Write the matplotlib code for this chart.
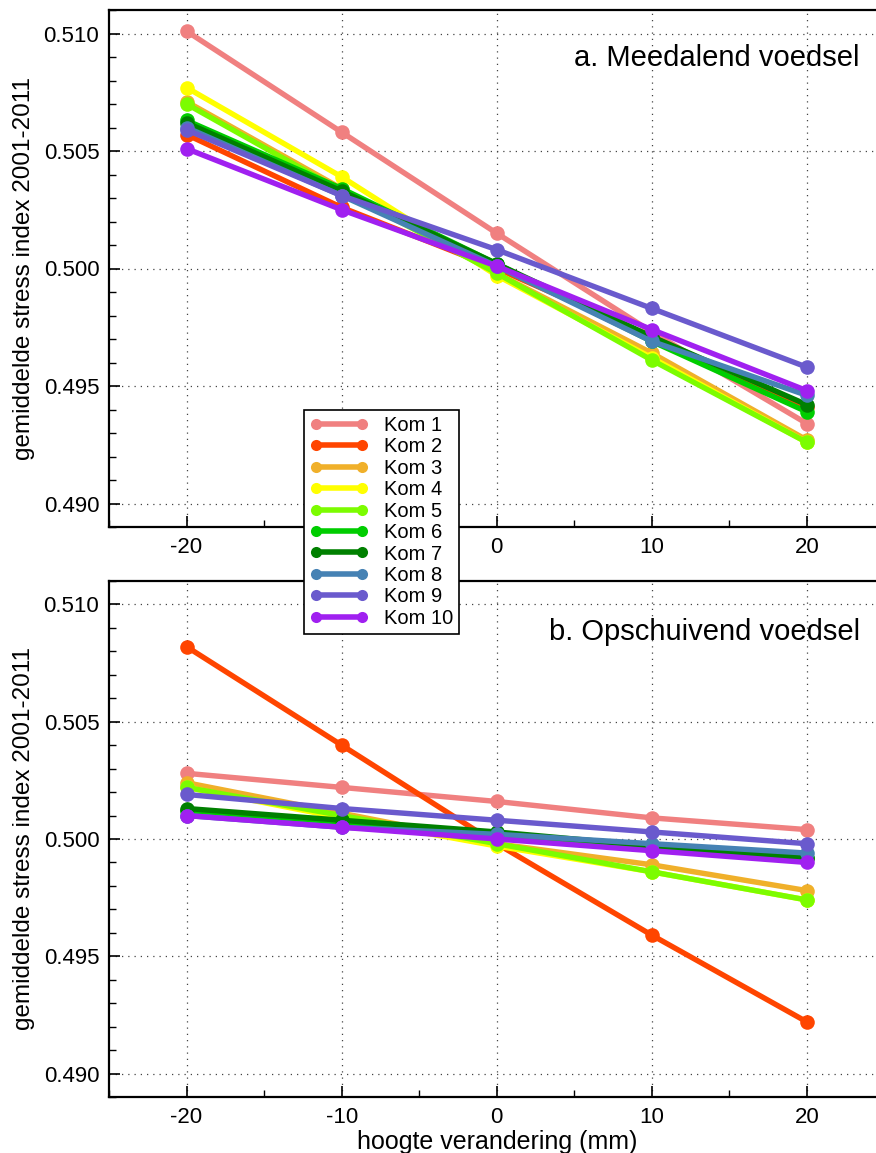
import matplotlib
matplotlib.use("Agg")
import matplotlib.pyplot as plt
from matplotlib.ticker import MultipleLocator, FormatStrFormatter

plt.rcParams['font.family'] = ['Liberation Sans', 'DejaVu Sans']
plt.rcParams['axes.unicode_minus'] = False

x_vals = [-20, -10, 0, 10, 20]
labels = ["Kom 1", "Kom 2", "Kom 3", "Kom 4", "Kom 5",
          "Kom 6", "Kom 7", "Kom 8", "Kom 9", "Kom 10"]
colors = ["#F08080", "#FF4500", "#F0B02A", "#FFFF00", "#7CFC00",
          "#00CD00", "#008000", "#4682B4", "#6A5ACD", "#A020F0"]

meedalend = [
    [0.5101, 0.5058, 0.5015, 0.4973, 0.4934],
    [0.5057, 0.5026, 0.5000, 0.4971, 0.4941],
    [0.5071, 0.5034, 0.4998, 0.4964, 0.4927],
    [0.5077, 0.5039, 0.4997, 0.4962, 0.4926],
    [0.5070, 0.5033, 0.4998, 0.4961, 0.4926],
    [0.5063, 0.5034, 0.5002, 0.4969, 0.4939],
    [0.5062, 0.5033, 0.5002, 0.4971, 0.4942],
    [0.5060, 0.5031, 0.5001, 0.4969, 0.4946],
    [0.5059, 0.5031, 0.5008, 0.4983, 0.4958],
    [0.5051, 0.5025, 0.5001, 0.4974, 0.4948],
]

opschuivend = [
    [0.5028, 0.5022, 0.5016, 0.5009, 0.5004],
    [0.5082, 0.5040, 0.4998, 0.4959, 0.4922],
    [0.5024, 0.5011, 0.4998, 0.4989, 0.4978],
    [0.5022, 0.5009, 0.4997, 0.4986, 0.4974],
    [0.5022, 0.5010, 0.4998, 0.4986, 0.4974],
    [0.5012, 0.5007, 0.5002, 0.4996, 0.4992],
    [0.5013, 0.5008, 0.5003, 0.4997, 0.4992],
    [0.5010, 0.5005, 0.5002, 0.4998, 0.4994],
    [0.5019, 0.5013, 0.5008, 0.5003, 0.4998],
    [0.5010, 0.5005, 0.5000, 0.4995, 0.4990],
]

panel_titles = ["a. Meedalend voedsel", "b. Opschuivend voedsel"]

fig = plt.figure(figsize=(8.76, 11.53), dpi=100)
W, H = 876, 1153
ax1 = fig.add_axes([109 / W, 1 - 527 / H, (884.5 - 109) / W, (527 - 10) / H])
ax2 = fig.add_axes([109 / W, 1 - 1097 / H, (884.5 - 109) / W, (1097 - 581) / H])

handles = []
for ax, data in [(ax1, meedalend), (ax2, opschuivend)]:
    for i, (series, c) in enumerate(zip(data, colors)):
        ln, = ax.plot(x_vals, series, color=c, lw=3.9, marker='o', ms=10.5,
                      markeredgewidth=0, label=labels[i], zorder=3 + i * 0.01)
        if ax is ax1:
            handles.append(ln)
    ax.set_xlim(-25, 25)
    ax.set_ylim(0.489, 0.511)
    ax.xaxis.set_major_locator(MultipleLocator(10))
    ax.xaxis.set_minor_locator(MultipleLocator(5))
    ax.yaxis.set_major_locator(MultipleLocator(0.005))
    ax.yaxis.set_minor_locator(MultipleLocator(0.001))
    ax.yaxis.set_major_formatter(FormatStrFormatter('%.3f'))
    ax.tick_params(which='major', direction='in', length=8, width=1.2,
                   labelsize=16, pad=7, top=False, right=False)
    ax.tick_params(which='minor', direction='in', length=5, width=1.0,
                   top=False, right=False)
    ax.grid(True, which='major', linestyle=(0, (1, 4)), color='#444444',
            linewidth=0.9)
    for s in ax.spines.values():
        s.set_linewidth(1.6)
    ax.set_ylabel("gemiddelde stress index 2001-2011", fontsize=17.5, labelpad=6)

ax2.set_xlabel("hoogte verandering (mm)", fontsize=18, labelpad=2)

fig.text(860 / W, 1 - 58 / H, panel_titles[0], ha='right', va='center', fontsize=21)
fig.text(860 / W, 1 - 632 / H, panel_titles[1], ha='right', va='center', fontsize=21)

leg = fig.legend(handles=handles, loc='upper left',
                 bbox_to_anchor=(304 / W, 1 - 410 / H), fontsize=14.5,
                 numpoints=2, handlelength=2.9, handletextpad=0.75,
                 labelspacing=0.12, borderpad=0.3, borderaxespad=0,
                 fancybox=False, framealpha=1, edgecolor='black')
leg.get_frame().set_linewidth(1.2)
for lh in leg.get_lines():
    lh.set_markersize(8)
    lh.set_linewidth(4)
leg.set_zorder(20)

fig.savefig("out.png", dpi=100)
